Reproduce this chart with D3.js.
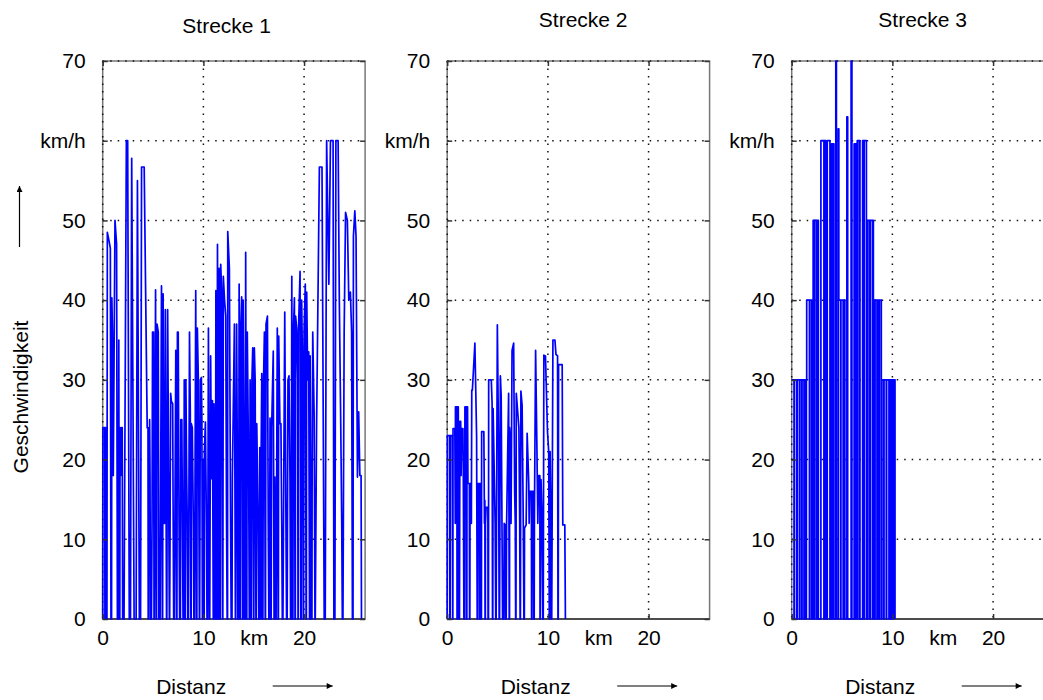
<!DOCTYPE html>
<html>
  <head>
    <meta charset="utf-8">
    <title>Geschwindigkeit / Distanz</title>
    <script src="https://d3js.org/d3.v7.min.js"></script>
    <style>
      body { margin: 0; background: #fff; }
      svg { display: block; font-family: "Liberation Sans", Arial, sans-serif; }
    </style>
  </head>
  <body>
    <div id="chart"></div>
    <script>

      // ---- data: [km, km/h] ----
      const titles = ['Strecke 1', 'Strecke 2', 'Strecke 3'];
      const yTicks = [0, 10, 20, 30, 40, 50, 60, 70];
      const yTickLabels = ['0', '10', '20', '30', '40', '50', 'km/h', '70'];
      const xTicks = [0, 10, 15, 20];
      const xTickLabels = ['0', '10', 'km', '20'];
      const xGrid = [0, 10, 20];
      const yGrid = [10, 20, 30, 40, 50, 60, 70];

      const strecke1 = [[0,0],[0.02,24],[0.2,24],[0.22,0],[0.25,0],[0.28,24],[0.32,19],[0.35,0],[0.42,0],[0.46,48.5],
        [0.62,47.5],[0.76,46.5],[0.82,0],[0.88,0],[0.91,40.3],[0.97,36],[1.01,18],[1.05,18],[1.22,50],[1.38,47],
        [1.46,0],[1.55,0],[1.6,35],[1.64,0],[1.7,0],[1.72,24],[1.8,18],[1.86,24],[1.94,24],[1.98,0],
        [2.12,0],[2.35,60],[2.48,60],[2.64,0],[2.76,0],[2.88,57.8],[3.12,0],[3.32,0],[3.45,55],[3.64,0],
        [3.76,0],[3.86,56.7],[4.12,56.7],[4.42,24],[4.5,24],[4.52,0],[4.55,0],[4.58,24],[4.62,18],[4.66,25],
        [4.7,18],[4.74,0],[4.84,0],[4.9,12],[4.95,36],[5.05,36],[5.1,0],[5.13,0],[5.25,41.3],[5.32,0],
        [5.35,0],[5.4,37],[5.52,36],[5.58,0],[5.7,0],[5.84,41.8],[5.92,0],[5.95,0],[6.0,40.8],[6.06,12],
        [6.14,12],[6.22,38.8],[6.34,0],[6.37,0],[6.45,38.8],[6.5,28.3],[6.62,0],[6.65,0],[6.75,28.3],[6.82,27.3],
        [6.95,27],[7.0,12],[7.05,0],[7.12,0],[7.26,33.7],[7.34,0],[7.37,0],[7.42,36],[7.5,36],[7.58,12],
        [7.64,0],[7.72,0],[7.76,25],[7.86,25],[7.92,12],[7.98,0],[8.04,0],[8.1,30],[8.18,0],[8.21,0],
        [8.26,30],[8.34,18],[8.4,12],[8.46,0],[8.52,0],[8.62,36],[8.7,26],[8.76,0],[8.79,0],[8.8,24.5],
        [8.9,24],[9.0,12],[9.06,0],[9.12,0],[9.24,41.2],[9.32,0],[9.35,0],[9.4,36.5],[9.5,30],[9.6,0],
        [9.63,0],[9.7,30],[9.8,30.3],[9.85,25],[9.9,0],[9.95,0],[10.0,20],[10.05,0],[10.08,0],[10.1,21],
        [10.2,24.7],[10.3,12],[10.36,0],[10.42,0],[10.5,36.5],[10.6,0],[10.63,0],[10.72,33],[10.8,17.6],[10.9,27.4],
        [10.98,0],[11.01,0],[11.05,27],[11.1,17.8],[11.14,0],[11.2,0],[11.24,41.2],[11.3,0],[11.33,0],[11.4,47],
        [11.48,0],[11.51,0],[11.56,44],[11.64,0],[11.67,0],[11.72,44.5],[11.82,41],[11.9,0],[11.93,0],[11.98,43],
        [12.1,40],[12.22,38],[12.3,12],[12.36,0],[12.4,0],[12.42,48.6],[12.58,44],[12.7,12],[12.76,0],[12.84,0],
        [12.88,17.8],[13.08,37],[13.18,0],[13.21,0],[13.3,37],[13.38,17.8],[13.42,0],[13.5,0],[13.55,42],[13.62,0],
        [13.65,0],[13.7,36],[13.8,40.4],[13.88,0],[13.91,0],[13.95,40],[14.04,17.8],[14.08,0],[14.14,0],[14.2,46],
        [14.28,0],[14.31,0],[14.36,36],[14.5,17.8],[14.56,0],[14.6,0],[14.64,30],[14.72,0],[14.75,0],[14.82,30],
        [14.9,34],[14.98,0],[15.01,0],[15.06,34],[15.14,30],[15.22,0],[15.25,0],[15.3,24.5],[15.44,12],[15.5,0],
        [15.56,0],[15.6,21.5],[15.68,0],[15.71,0],[15.74,21.5],[15.8,30.8],[15.88,0],[15.91,0],[15.96,29],[16.06,36],
        [16.14,0],[16.17,0],[16.22,37],[16.36,38],[16.44,12],[16.5,0],[16.56,0],[16.62,25.2],[16.7,0],[16.73,0],
        [16.78,24],[16.94,33.6],[17.02,0],[17.05,0],[17.1,17.8],[17.16,0],[17.22,0],[17.34,36.5],[17.42,0],[17.45,0],
        [17.48,35.5],[17.6,24.5],[17.7,24.5],[17.78,12],[17.84,0],[17.9,0],[18.08,38.5],[18.2,12],[18.26,0],[18.32,0],
        [18.4,30],[18.5,30.5],[18.6,17.8],[18.66,0],[18.72,0],[18.78,43],[18.86,0],[18.89,0],[18.94,36],[19.04,40.3],
        [19.1,0],[19.13,0],[19.16,38],[19.26,36.5],[19.36,30],[19.4,0],[19.43,0],[19.44,36],[19.6,43.6],[19.68,0],
        [19.71,0],[19.76,40],[19.86,30.5],[19.92,0],[19.95,0],[20.0,36],[20.12,42],[20.2,0],[20.23,0],[20.26,41],
        [20.36,30],[20.46,33.5],[20.54,0],[20.57,0],[20.6,33],[20.66,12],[20.72,0],[20.78,0],[20.8,17.8],[20.86,36],
        [21.0,25.5],[21.08,0],[21.11,0],[21.24,24],[21.52,56.7],[21.78,56.7],[22.0,0],[22.1,0],[22.24,60],[22.46,42],
        [22.62,60],[22.88,60],[22.96,0],[23.06,0],[23.16,60],[23.38,60],[23.5,40],[23.64,24.5],[23.74,12],[23.8,0],
        [23.86,0],[23.98,36],[24.12,51],[24.3,50],[24.44,40],[24.6,41],[24.72,36],[24.8,0],[24.86,0],[24.9,48],
        [25.04,51.2],[25.16,48],[25.3,17.8],[25.42,26],[25.54,18],[25.66,18],[25.7,0]];

      const strecke2 = [[0,0],[0.02,23],[0.24,23],[0.26,0],[0.29,0],[0.31,23],[0.5,23],[0.54,0],[0.56,0],[0.58,23.9],
        [0.76,23.9],[0.8,12],[0.82,26.6],[0.96,26.6],[0.98,0],[1.01,0],[1.03,26.6],[1.1,26.6],[1.14,12],[1.18,0],
        [1.22,0],[1.26,24.8],[1.34,24.8],[1.38,18],[1.44,23.9],[1.56,23.9],[1.6,18],[1.66,0],[1.72,0],[1.76,26.6],
        [1.9,26.6],[1.92,0],[1.95,0],[1.97,26.6],[2.02,26.6],[2.06,17],[2.2,17],[2.22,0],[2.25,0],[2.27,17],
        [2.32,17],[2.36,12],[2.4,12],[2.44,28.7],[2.5,28.7],[2.75,34.6],[2.92,23],[2.98,0],[3.02,0],[3.06,17],
        [3.2,17],[3.22,0],[3.25,0],[3.27,17],[3.34,17],[3.38,0],[3.4,0],[3.42,23.5],[3.64,23.5],[3.7,12],
        [3.74,14.9],[3.76,0],[3.79,0],[3.8,12],[3.86,14],[4.04,14],[4.06,0],[4.1,0],[4.12,30],[4.38,30],
        [4.46,27],[4.5,0],[4.53,0],[4.56,26.4],[4.76,12],[4.82,0],[4.86,0],[4.98,36.9],[5.1,22],[5.16,0],
        [5.2,0],[5.28,30.5],[5.36,28],[5.44,12],[5.5,0],[5.56,6],[5.62,0],[5.66,12],[5.76,11.8],[5.8,0],
        [5.86,0],[5.9,12],[6.1,28.3],[6.16,0],[6.19,0],[6.2,24],[6.28,22],[6.34,12],[6.44,33.7],[6.6,34.6],
        [6.7,16],[6.76,12],[6.8,0],[6.83,0],[6.86,28.3],[7.0,26],[7.12,24],[7.2,12],[7.24,0],[7.27,0],
        [7.32,28.6],[7.44,26.8],[7.56,11.4],[7.62,0],[7.66,0],[7.68,11.4],[7.84,11.8],[7.94,23.3],[8.1,17],[8.14,12],
        [8.2,16],[8.36,16],[8.38,0],[8.41,0],[8.43,16],[8.56,16],[8.6,0],[8.64,0],[8.66,12],[8.78,33.7],
        [8.9,22.4],[9.0,12],[9.08,18],[9.2,18],[9.22,0],[9.25,0],[9.32,17.5],[9.44,11.8],[9.5,0],[9.54,0],
        [9.6,33.1],[9.76,33],[9.96,23.5],[10.08,21],[10.14,0],[10.17,0],[10.22,21],[10.3,11.8],[10.34,0],[10.38,0],
        [10.5,35],[10.7,35],[10.8,33.2],[10.96,33],[11.0,0],[11.03,0],[11.06,31.9],[11.42,31.9],[11.48,11.8],[11.68,11.8],
        [11.74,0]];

      // Strecke 3 is a step profile: each value holds until the next distance
      const strecke3 = [[0,30],[0.23,0],[0.27,30],[0.5,0],[0.54,30],[0.76,0],[0.8,30],[0.99,0],[1.03,30],[1.22,0],
        [1.26,30],[1.42,0],[1.46,30],[1.49,40],[1.76,0],[1.8,40],[1.99,0],[2.13,50],[2.25,0],[2.29,50],
        [2.48,0],[2.52,50],[2.65,0],[2.9,60],[3.2,0],[3.24,60],[3.4,0],[3.53,60],[3.8,0],[3.96,59.6],
        [4.13,0],[4.17,59.6],[4.19,0],[4.38,70],[4.44,0],[4.62,61.5],[4.68,40],[4.85,0],[4.89,40],[5.11,0],
        [5.15,40],[5.28,0],[5.48,63],[5.56,0],[5.9,70],[5.98,0],[6.2,59.6],[6.37,0],[6.41,59.6],[6.44,0],
        [6.51,60],[6.7,0],[6.74,60],[6.78,0],[7.04,60],[7.16,0],[7.2,60],[7.42,0],[7.56,50],[7.75,0],
        [7.79,50],[8.01,0],[8.05,50],[8.11,0],[8.17,40],[8.24,0],[8.28,40],[8.47,0],[8.51,40],[8.67,0],
        [8.71,40],[8.9,0],[8.94,30],[9.13,0],[9.17,30],[9.39,0],[9.43,30],[9.66,0],[9.7,30],[9.79,0],
        [9.83,30],[9.89,0],[9.93,30],[10.05,0],[10.09,30],[10.26,0]];

      const series = [
        { values: strecke1, curve: d3.curveLinear },
        { values: strecke2, curve: d3.curveLinear },
        { values: strecke3, curve: d3.curveStepAfter }
      ];

      // ---- layout ----
      const width = 1043, height = 700;
      const plotTop = 61, plotBottom = 619, plotW = 262.4;
      const panelLeft = [102.7, 447.2, 791.7];
      const titleDx = [124, 136, 131];
      const titleY = [33, 27, 27];
      const fontSize = 21;

      const svg = d3.select('#chart').append('svg')
        .attr('width', width)
        .attr('height', height);
      svg.append('rect').attr('width', width).attr('height', height).attr('fill', '#fff');

      // arrow head
      svg.append('defs').append('marker')
        .attr('id', 'arrow')
        .attr('viewBox', '0 0 10 10')
        .attr('refX', 10).attr('refY', 5)
        .attr('markerWidth', 9).attr('markerHeight', 6)
        .attr('markerUnits', 'userSpaceOnUse')
        .attr('orient', 'auto')
        .append('path').attr('d', 'M0,0L10,5L0,10z').attr('fill', '#000');

      const yScale = d3.scaleLinear().domain([0, 70]).range([plotBottom, plotTop]);

      series.forEach((s, i) => {
        const L = panelLeft[i];
        const xScale = d3.scaleLinear().domain([0, 26.06]).range([L, L + plotW]);
        const g = svg.append('g');

        // frame
        g.append('rect')
          .attr('x', L).attr('y', plotTop)
          .attr('width', plotW).attr('height', plotBottom - plotTop)
          .attr('fill', 'none').attr('stroke', '#777').attr('stroke-width', 1.5);
        g.append('line')
          .attr('x1', L).attr('x2', L + plotW)
          .attr('y1', plotBottom).attr('y2', plotBottom)
          .attr('stroke', '#333').attr('stroke-width', 1.5);

        // dotted grid
        g.selectAll('.hgrid').data(yGrid).enter().append('line')
          .attr('x1', L).attr('x2', L + plotW)
          .attr('y1', d => yScale(d)).attr('y2', d => yScale(d))
          .attr('stroke', '#111').attr('stroke-width', 1.5)
          .attr('stroke-dasharray', '1.5,6');
        g.selectAll('.vgrid').data(xGrid).enter().append('line')
          .attr('x1', d => xScale(d)).attr('x2', d => xScale(d))
          .attr('y1', plotTop).attr('y2', plotBottom)
          .attr('stroke', '#111').attr('stroke-width', 1.5)
          .attr('stroke-dasharray', '1.5,6');

        // speed profile
        const line = d3.line()
          .x(d => xScale(d[0]))
          .y(d => yScale(d[1]))
          .curve(s.curve);
        g.append('path')
          .datum(s.values)
          .attr('d', line)
          .attr('fill', 'none')
          .attr('stroke', '#0000ff')
          .attr('stroke-width', 1.7)
          .attr('stroke-linejoin', 'round');

        // y axis (labels left, mirrored ticks right)
        g.append('g')
          .attr('transform', `translate(${L},0)`)
          .call(d3.axisLeft(yScale).tickValues(yTicks).tickSize(-5).tickPadding(17)
            .tickFormat((d, k) => yTickLabels[k]));
        g.append('g')
          .attr('transform', `translate(${L + plotW},0)`)
          .call(d3.axisRight(yScale).tickValues(yTicks).tickSize(-5).tickFormat(''));

        // x axis
        g.append('g')
          .attr('transform', `translate(0,${plotBottom})`)
          .call(d3.axisBottom(xScale).tickValues(xTicks).tickSize(0).tickPadding(11)
            .tickFormat((d, k) => xTickLabels[k]));
        g.append('g')
          .attr('transform', `translate(0,${plotBottom})`)
          .call(d3.axisBottom(xScale).tickValues(xGrid).tickSize(-5).tickFormat(''));
        g.append('g')
          .attr('transform', `translate(0,${plotTop})`)
          .call(d3.axisTop(xScale).tickValues(xGrid).tickSize(-5).tickFormat(''));

        g.selectAll('.domain').remove();
        g.selectAll('.tick line').attr('stroke', '#333').attr('stroke-width', 1.5);
        g.selectAll('.tick text')
          .attr('font-size', fontSize)
          .attr('font-family', '"Liberation Sans", Arial, sans-serif')
          .attr('fill', '#000');

        // title
        g.append('text')
          .attr('x', L + titleDx[i]).attr('y', titleY[i])
          .attr('text-anchor', 'middle')
          .attr('font-size', fontSize)
          .text(titles[i]);

        // x label + arrow
        g.append('text')
          .attr('x', L + 88.5).attr('y', 694)
          .attr('text-anchor', 'middle')
          .attr('font-size', fontSize)
          .text('Distanz');
        g.append('line')
          .attr('x1', L + 170).attr('x2', L + 230)
          .attr('y1', 686).attr('y2', 686)
          .attr('stroke', '#000').attr('stroke-width', 1.2)
          .attr('marker-end', 'url(#arrow)');
      });

      // y label + arrow (first panel only)
      svg.append('text')
        .attr('transform', 'translate(28,397) rotate(-90)')
        .attr('text-anchor', 'middle')
        .attr('font-size', fontSize)
        .text('Geschwindigkeit');
      svg.append('line')
        .attr('x1', 19.5).attr('x2', 19.5)
        .attr('y1', 247).attr('y2', 186)
        .attr('stroke', '#000').attr('stroke-width', 1.2)
        .attr('marker-end', 'url(#arrow)');

    </script>
  </body>
</html>
